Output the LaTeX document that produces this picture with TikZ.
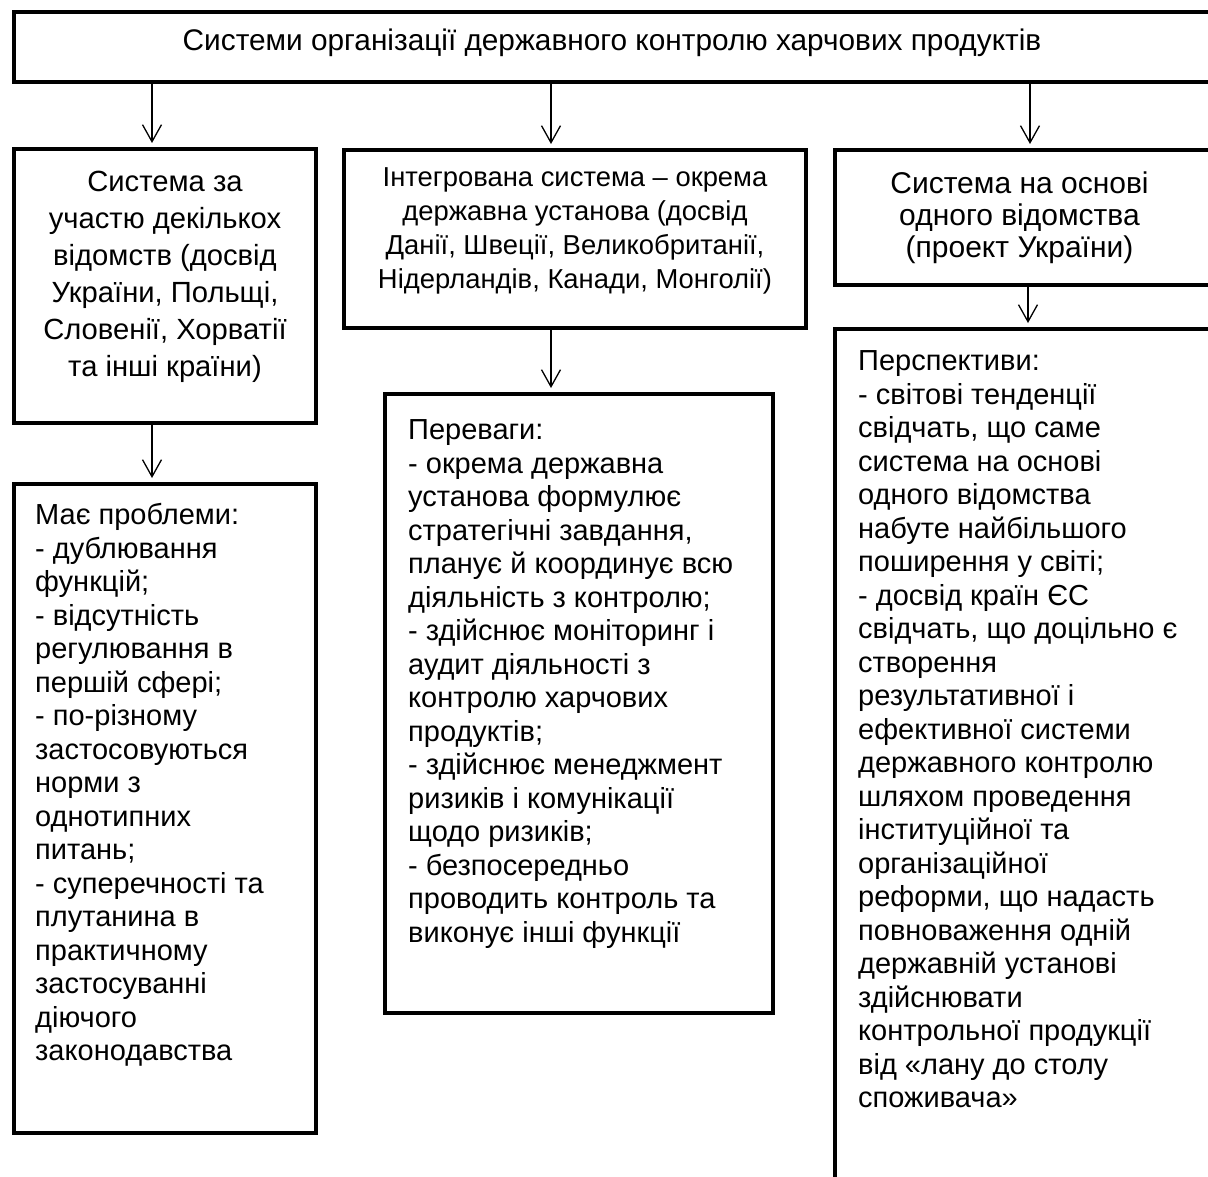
\documentclass[tikz,border=0pt]{standalone}
\usepackage{fontspec}
\setmainfont{Liberation Sans}
\usetikzlibrary{arrows.meta,calc}
\begin{document}
\begin{tikzpicture}[x=1pt,y=-1pt,
  box/.style={draw, line width=4.5pt, rectangle, inner sep=0pt, outer sep=0pt, anchor=north west},
  arr/.style={line width=1.3pt, -{Straight Barb[length=17pt,width=19pt,line width=1.3pt]}, shorten >=6pt},
  fA/.style={font=\fontsize{29}{33.5}\selectfont},
  fT/.style={font=\fontsize{29.8}{34}\selectfont},
  fM/.style={font=\fontsize{27.4}{34}\selectfont},
  fR/.style={font=\fontsize{30}{32}\selectfont},
  fC/.style={font=\fontsize{29.2}{37}\selectfont},
  ctxt/.style={inner sep=0pt, align=center},
  ltxt/.style={inner sep=0pt, align=left, anchor=north west}]
\useasboundingbox (0,0) rectangle (1208,1177);
\fill[white] (0,0) rectangle (1208,1177);
\clip (0,0) rectangle (1208,1177);
% boxes
\node[box, minimum width=1198pt, minimum height=70pt] (T) at (14,12) {};
\node[box, minimum width=302pt, minimum height=274pt] (B1) at (14,149) {};
\node[box, minimum width=462pt, minimum height=178pt] (B2) at (344,150) {};
\node[box, minimum width=377pt, minimum height=135pt] (B3) at (835,150) {};
\node[box, minimum width=302pt, minimum height=649pt] (L1) at (14,484) {};
\node[box, minimum width=388pt, minimum height=619pt] (L2) at (385,394) {};
\node[box, minimum width=377pt, minimum height=870pt] (L3) at (835,329) {};
% texts
\node[ctxt, fT] (tT) at (612,43) {Системи організації державного контролю харчових продуктів};
\node[ctxt, fC] (tB1) at ($(B1.center)+(0,-9)$) {Система за\\участю декількох\\відомств (досвід\\України, Польщі,\\Словенії, Хорватії\\та інші країни)};
\node[ctxt, fM] (tB2) at ($(B2.center)+(0,-8)$) {Інтегрована система – окрема\\державна установа (досвід\\Данії, Швеції, Великобританії,\\Нідерландів, Канади, Монголії)};
\node[ctxt, fR] (tB3) at ($(B3.center)+(-4,0)$) {Система на основі\\одного відомства\\(проект України)};
\node[ltxt, fA] (tL1) at (35,501) {\strut Має проблеми:\\- дублювання\\функцій;\\- відсутність\\регулювання в\\першій сфері;\\- по-різному\\застосовуються\\норми з\\однотипних\\питань;\\- суперечності та\\плутанина в\\практичному\\застосуванні\\діючого\\законодавства};
\node[ltxt, fA] (tL2) at (408,416) {\strut Переваги:\\- окрема державна\\установа формулює\\стратегічні завдання,\\планує й координує всю\\діяльність з контролю;\\- здійснює моніторинг і\\аудит діяльності з\\контролю харчових\\продуктів;\\- здійснює менеджмент\\ризиків і комунікації\\щодо ризиків;\\- безпосередньо\\проводить контроль та\\виконує інші функції};
\node[ltxt, fA] (tL3) at (858,347) {\strut Перспективи:\\- світові тенденції\\свідчать, що саме\\система на основі\\одного відомства\\набуте найбільшого\\поширення у світі;\\- досвід країн ЄС\\свідчать, що доцільно є\\створення\\результативної і\\ефективної системи\\державного контролю\\шляхом проведення\\інституційної та\\організаційної\\реформи, що надасть\\повноваження одній\\державній установі\\здійснювати\\контрольної продукції\\від «лану до столу\\споживача»};
% arrows
\draw[arr] (152,0 |- T.south) -- (152,0 |- B1.north);
\draw[arr] (551,0 |- T.south) -- (551,0 |- B2.north);
\draw[arr] (1030,0 |- T.south) -- (1030,0 |- B3.north);
\draw[arr] (152,0 |- B1.south) -- (152,0 |- L1.north);
\draw[arr] (551,0 |- B2.south) -- (551,0 |- L2.north);
\draw[arr] (1028,0 |- B3.south) -- (1028,0 |- L3.north);
\end{tikzpicture}
\end{document}
